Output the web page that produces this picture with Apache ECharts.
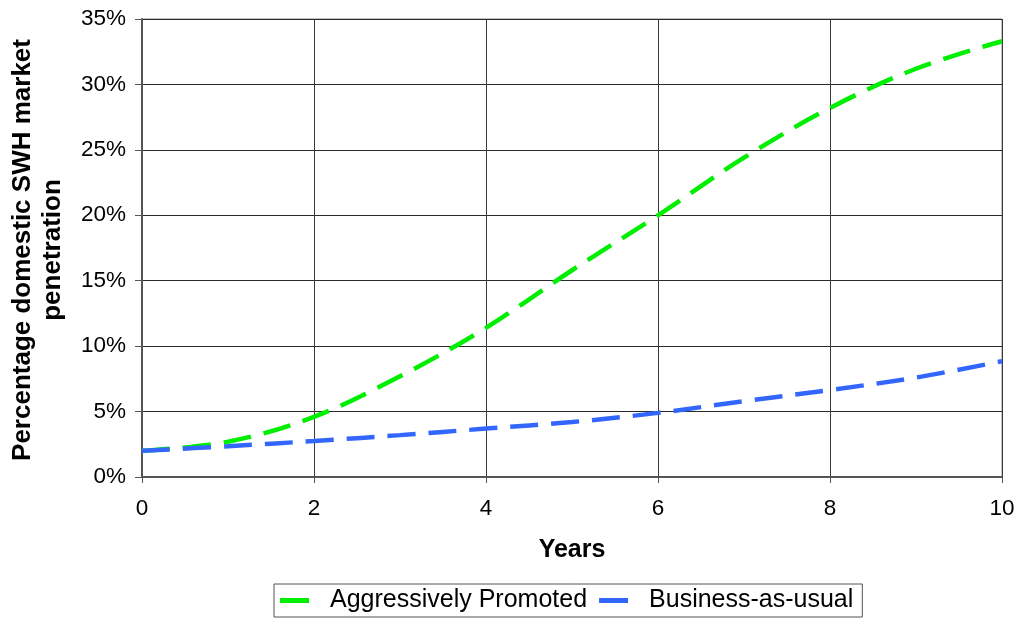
<!DOCTYPE html>
<html>
<head>
<meta charset="utf-8">
<title>SWH market penetration</title>
<script src="https://cdn.jsdelivr.net/npm/echarts@6/dist/echarts.min.js"></script>
<style>
  html, body { margin: 0; padding: 0; background: #ffffff; }
  #chart { width: 1018px; height: 621px; }
</style>
</head>
<body>
<div id="chart"></div>
<script>
// Years since start of programme
const years = [0, 1, 2, 3, 4, 5, 6, 7, 8, 9, 10];
// Market penetration (%) under each scenario
const aggressivelyPromoted = [2.0, 2.7, 4.6, 7.7, 11.4, 15.8, 20.0, 24.4, 28.2, 31.2, 33.3];
const businessAsUsual = [2.0, 2.35, 2.75, 3.2, 3.7, 4.2, 4.9, 5.8, 6.65, 7.6, 8.85];
// Axis ticks
const xTicks = [0, 2, 4, 6, 8, 10];
const yTicks = [0, 5, 10, 15, 20, 25, 30, 35];
const seriesNames = ['Aggressively Promoted', 'Business-as-usual'];

const FONT = '"Liberation Sans", Arial, Helvetica, sans-serif';

const chart = echarts.init(document.getElementById('chart'), null, { renderer: 'canvas' });

const pairs = vals => years.map((y, i) => [y, vals[i]]);

const option = {
  backgroundColor: '#ffffff',
  animation: false,
  grid: {
    left: 142, right: 16, top: 19, bottom: 144,
    show: true, borderColor: '#8a8a8a', borderWidth: 1, backgroundColor: 'transparent'
  },
  xAxis: {
    type: 'value',
    min: xTicks[0], max: xTicks[xTicks.length - 1], interval: xTicks[1] - xTicks[0],
    axisLine: { show: true, onZero: false, lineStyle: { color: '#555555', width: 2 } },
    axisTick: { show: true, inside: false, length: 6, lineStyle: { color: '#555555', width: 1 } },
    axisLabel: { margin: 20, color: '#000000', fontSize: 22.5, fontFamily: FONT },
    splitLine: { show: true, lineStyle: { color: '#3a3a3a', width: 1 } }
  },
  yAxis: {
    type: 'value',
    min: yTicks[0], max: yTicks[yTicks.length - 1], interval: yTicks[1] - yTicks[0],
    axisLine: { show: true, lineStyle: { color: '#555555', width: 2 } },
    axisTick: { show: true, inside: false, length: 7, lineStyle: { color: '#555555', width: 1 } },
    axisLabel: { margin: 16, color: '#000000', fontSize: 22.5, fontFamily: FONT, formatter: '{value}%' },
    splitLine: { show: true, lineStyle: { color: '#2a2a2a', width: 1 } }
  },
  legend: {
    data: seriesNames,
    left: 274, top: 584,
    orient: 'horizontal',
    padding: [4, 9, 4, 6],
    borderColor: '#555555', borderWidth: 1,
    backgroundColor: '#ffffff',
    icon: 'rect',
    itemWidth: 29, itemHeight: 5,
    itemGap: 12,
    textStyle: { color: '#000000', fontSize: 25, fontFamily: FONT, padding: [0, 0, 0, 16] }
  },
  graphic: [
    {
      type: 'text',
      style: {
        text: 'Years', x: 572, y: 550,
        fill: '#000000', font: 'bold 25px ' + FONT,
        textAlign: 'center', textVerticalAlign: 'middle'
      }
    },
    {
      type: 'text',
      x: 38, y: 250, rotation: Math.PI / 2,
      style: {
        text: 'Percentage domestic SWH market\npenetration',
        x: 0, y: 0,
        fill: '#000000', font: 'bold 26px ' + FONT,
        lineHeight: 30,
        textAlign: 'center', textVerticalAlign: 'middle'
      }
    }
  ],
  series: [
    {
      name: seriesNames[0],
      type: 'line',
      data: pairs(aggressivelyPromoted),
      smooth: 0.35,
      showSymbol: false,
      color: '#00ee00',
      lineStyle: { color: '#00ee00', width: 4.5, type: [28, 13], cap: 'butt' },
      z: 3
    },
    {
      name: seriesNames[1],
      type: 'line',
      data: pairs(businessAsUsual),
      smooth: 0.35,
      showSymbol: false,
      color: '#3366ff',
      lineStyle: { color: '#3366ff', width: 4.5, type: [28, 13], cap: 'butt' },
      z: 4
    }
  ]
};

chart.setOption(option);
</script>
</body>
</html>
